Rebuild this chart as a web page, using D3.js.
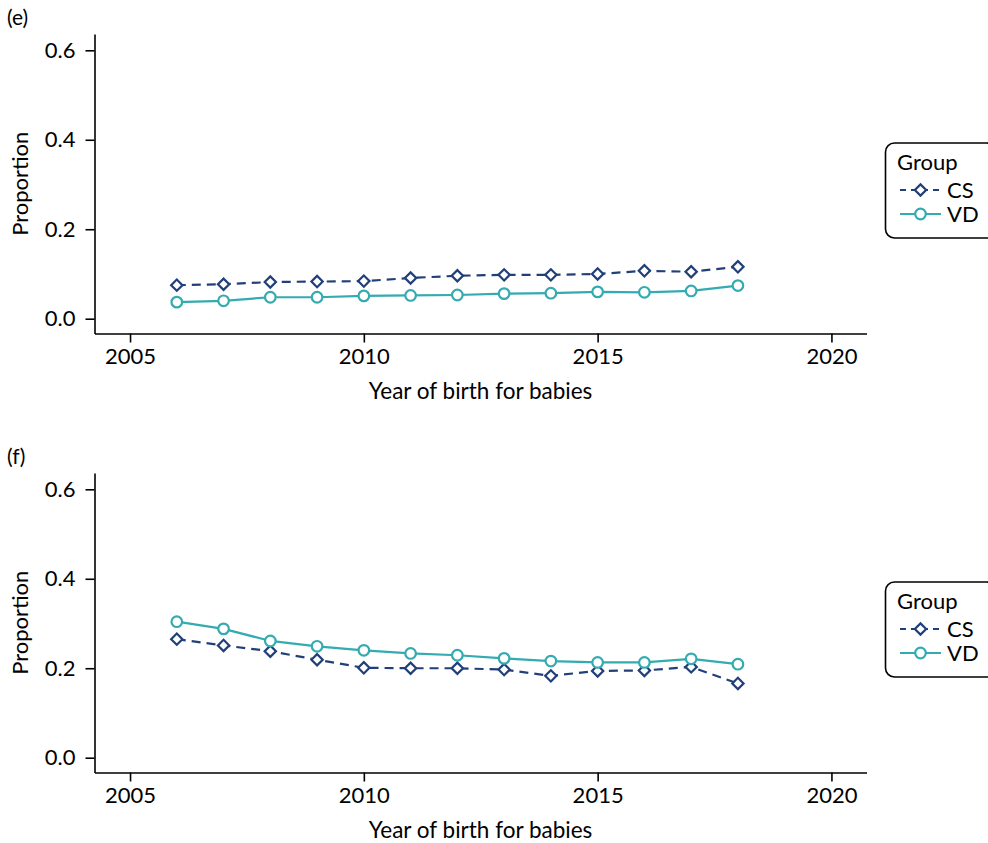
<!DOCTYPE html>
<html><head><meta charset="utf-8">
<script src="https://cdn.jsdelivr.net/npm/d3@7"></script>
<style>
html,body{margin:0;padding:0;background:#fff;}
svg text{font-family:Lato,"Noto Sans",sans-serif;fill:#000;}
</style></head>
<body><svg id="chart" width="988" height="843"></svg>
<script>
const years = [2006,2007,2008,2009,2010,2011,2012,2013,2014,2015,2016,2017,2018];
const panelLabels = ["(e)","(f)"];
const seriesNames = ["CS","VD"];
const csE = [0.075,0.077,0.082,0.083,0.084,0.091,0.096,0.098,0.098,0.100,0.107,0.105,0.116];
const vdE = [0.037,0.040,0.048,0.048,0.051,0.052,0.053,0.056,0.057,0.060,0.059,0.062,0.074];
const csF = [0.265,0.251,0.238,0.219,0.201,0.200,0.200,0.197,0.183,0.194,0.195,0.203,0.166];
const vdF = [0.304,0.288,0.261,0.249,0.240,0.233,0.229,0.222,0.216,0.213,0.213,0.221,0.209];
const xTicks = [2005,2010,2015,2020];
const yTicks = [0,0.2,0.4,0.6];
const xTitle = "Year of birth for babies";
const yTitle = "Proportion";
const legendTitle = "Group";

const colors = {CS:"#213f79", VD:"#33abb1"};
const svg = d3.select("#chart");
const FS = 22;

const panels = [
  {label:panelLabels[0], cs:csE, vd:vdE, top:34, bottom:333.5},
  {label:panelLabels[1], cs:csF, vd:vdF, top:473, bottom:772.5}
];

panels.forEach(p=>{
  const g = svg.append("g");
  const x = d3.scaleLinear().domain([2004.24,2020.75]).range([94.5,866.5]);
  const y0 = p.bottom - 14.8, y6 = p.top + 16.3;
  const y = d3.scaleLinear().domain([0,0.6]).range([y0,y6]);
  const yExt = y.copy().domain([y.invert(p.bottom), y.invert(p.top)]).range([p.bottom,p.top]);

  const xa = g.append("g").attr("transform",`translate(0,${p.bottom})`)
    .call(d3.axisBottom(x).tickValues(xTicks).tickFormat(d3.format("d")).tickSize(9).tickSizeOuter(0).tickPadding(6));
  const ya = g.append("g").attr("transform",`translate(94.5,0)`)
    .call(d3.axisLeft(yExt).tickValues(yTicks).tickFormat(d3.format(".1f")).tickSize(9).tickSizeOuter(0).tickPadding(10));
  [xa,ya].forEach(a=>{
    a.selectAll("path,line").attr("stroke","#000").attr("stroke-width",1.6);
    a.selectAll("text").attr("font-size",FS).attr("font-family","Lato");
  });

  g.append("text").attr("x",480.5).attr("y",p.bottom+65).attr("text-anchor","middle")
    .attr("font-size",22.5).text(xTitle);
  g.append("text").attr("transform",`translate(28,${(p.top+p.bottom)/2}) rotate(-90)`)
    .attr("text-anchor","middle").attr("font-size",FS).text(yTitle);
  g.append("text").attr("x",7).attr("y",p.top-9).style("font-size","21px").text(p.label);

  const line = d3.line().x((d,i)=>x(years[i])).y(d=>y(d));
  g.append("path").datum(p.vd).attr("d",line).attr("fill","none")
    .attr("stroke",colors.VD).attr("stroke-width",2.2);
  g.append("path").datum(p.cs).attr("d",line).attr("fill","none")
    .attr("stroke",colors.CS).attr("stroke-width",2.2).attr("stroke-dasharray","9,6");

  const diamond = d3.symbol().type(d3.symbolSquare).size(64);
  g.selectAll(".cs").data(p.cs).join("path")
    .attr("d",diamond())
    .attr("transform",(d,i)=>`translate(${x(years[i])},${y(d)}) rotate(45)`)
    .attr("fill","#fff").attr("stroke",colors.CS).attr("stroke-width",2.2);
  g.selectAll(".vd").data(p.vd).join("circle")
    .attr("cx",(d,i)=>x(years[i])).attr("cy",d=>y(d)).attr("r",5.3)
    .attr("fill","#fff").attr("stroke",colors.VD).attr("stroke-width",2.2);

  // legend
  const lt = p.top + 109;
  const lg = g.append("g");
  lg.append("rect").attr("x",885.5).attr("y",lt).attr("width",110).attr("height",95)
    .attr("rx",9).attr("fill","#fff").attr("stroke","#000").attr("stroke-width",1.6);
  lg.append("text").attr("x",897).attr("y",lt+27).attr("font-size",FS).text(legendTitle);
  seriesNames.forEach((s,i)=>{
    const yy = lt + 47 + i*24;
    lg.append("line").attr("x1",900).attr("x2",941).attr("y1",yy).attr("y2",yy)
      .attr("stroke",colors[s]).attr("stroke-width",2.2)
      .attr("stroke-dasharray", s==="CS" ? "6,5" : null);
    if(s==="CS"){
      lg.append("path").attr("d",diamond()).attr("transform",`translate(920.5,${yy}) rotate(45)`)
        .attr("fill","#fff").attr("stroke",colors.CS).attr("stroke-width",2.2);
    } else {
      lg.append("circle").attr("cx",920.5).attr("cy",yy).attr("r",5.3)
        .attr("fill","#fff").attr("stroke",colors.VD).attr("stroke-width",2.2);
    }
    lg.append("text").attr("x",947).attr("y",yy+8).attr("font-size",FS).text(s);
  });
});
</script></body></html>
